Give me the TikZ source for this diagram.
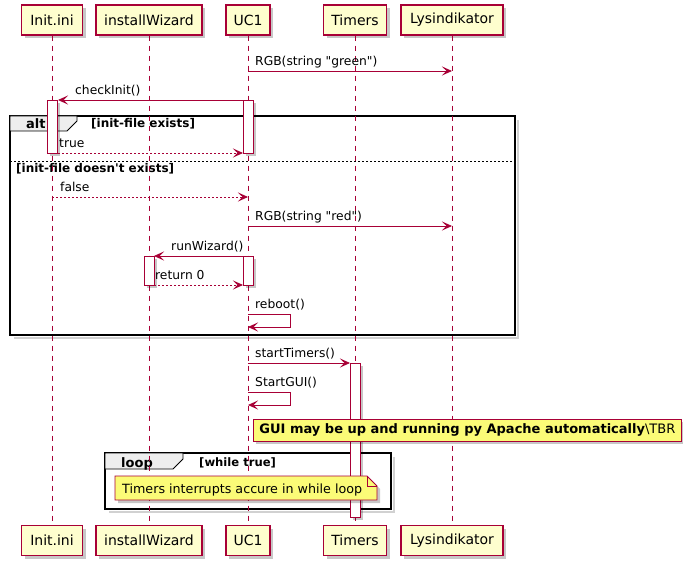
\documentclass[tikz,border=0pt]{standalone}
\usepackage{fontspec}
\newfontfamily\dv{DejaVu Sans}
\usetikzlibrary{arrows.meta,shadows}
\definecolor{pborder}{HTML}{A80036}
\definecolor{pfill}{HTML}{FEFECE}
\definecolor{nfill}{HTML}{FBFB77}
\definecolor{tabfill}{HTML}{EEEEEE}
\begin{document}
\begin{tikzpicture}[x=1pt,y=-1pt,
  every node/.style={font=\dv\fontsize{12.3}{15}\selectfont, inner sep=0pt, text=black},
  shad/.style={drop shadow={shadow xshift=3pt, shadow yshift=-3pt, fill=black, opacity=0.22}},
  part/.style={draw=pborder, fill=pfill, line width=1.1pt, minimum height=30pt, shad,
    font=\dv\fontsize{14}{16}\selectfont},
  life/.style={draw=pborder, line width=0.8pt, dash pattern=on 5pt off 5pt},
  act/.style={draw=pborder, fill=white, line width=0.8pt, shad},
  msg/.style={draw=pborder, line width=0.9pt, -{Stealth[length=10pt,width=9pt,inset=4.5pt]}},
  ret/.style={msg, dash pattern=on 2pt off 2pt},
  lbl/.style={anchor=base west},
  frame/.style={draw=black, line width=1.6pt},
  tab/.style={draw=black, fill=tabfill, line width=0.9pt},
  flabel/.style={anchor=base west, font=\dv\bfseries\fontsize{13}{15}\selectfont},
  guard/.style={anchor=base west, font=\dv\bfseries\fontsize{12}{14}\selectfont},
  note/.style={draw=pborder, fill=nfill, line width=0.8pt, shad},
  fshadow/.style={draw=black!18, line width=2.5pt}
]
\useasboundingbox (0,0) rectangle (683,569);
\fill[white] (0,0) rectangle (683,569);

% frames (behind)
\draw[fshadow] (14,338) -- (518,338) -- (518,120);
\draw[fshadow] (109,512) -- (394,512) -- (394,457);
\draw[frame] (10,116) rectangle (515,335);
\filldraw[tab] (10,116) -- (77,116) -- (77,121) -- (67,131) -- (10,131) -- cycle;
\node[flabel] (alt) at (26,129) {alt};
\node[guard] (g1) at (91,128) {[init-file exists]};
\draw[black, line width=0.8pt, dash pattern=on 2pt off 2pt] (10,161) -- (515,161);
\node[guard] (g2) at (16,173) {[init-file doesn't exists]};

\draw[frame] (105,453) rectangle (391,509);
\filldraw[tab] (105,453) -- (183,453) -- (183,459) -- (173,469) -- (105,469) -- cycle;
\node[flabel] (loop) at (121,467) {loop};
\node[guard, font=\dv\bfseries\fontsize{11.6}{14}\selectfont] (g3) at (199,466) {[while true]};

% participants
\node[part, minimum width=61pt] (pI) at (52,20) {Init.ini};
\node[part, minimum width=106pt] (pW) at (149,20) {installWizard};
\node[part, minimum width=44pt] (pU) at (248,20) {UC1};
\node[part, minimum width=63pt] (pT) at (355,20) {Timers};
\node[part, minimum width=102pt] (pL) at (452,20) {Lysindikator};
\node[part, minimum width=61pt] (qI) at (52,540.5) {Init.ini};
\node[part, minimum width=106pt] (qW) at (149,540.5) {installWizard};
\node[part, minimum width=44pt] (qU) at (248,540.5) {UC1};
\node[part, minimum width=63pt] (qT) at (355,540.5) {Timers};
\node[part, minimum width=102pt] (qL) at (452,540.5) {Lysindikator};

% lifelines
\draw[life] (pI.south) -- (qI.north);
\draw[life] (pW.south) -- (qW.north);
\draw[life] (pU.south) -- (qU.north);
\draw[life] (pT.south) -- (qT.north);
\draw[life] (pL.south) -- (qL.north);

% activations
\filldraw[act] (47,100) rectangle (57,153);
\filldraw[act] (243,100) rectangle (253,153);
\filldraw[act] (243,256) rectangle (253,285);
\filldraw[act] (144,256) rectangle (154,285);
\filldraw[act] (350,363) rectangle (360,517);

% messages
\draw[msg] (248,71) -- (452,71);
\node[lbl] (m1) at (255,66) {RGB(string "green")};
\draw[msg] (243,100) -- (58,100);
\node[lbl] (m2) at (75,95) {checkInit()};
\draw[ret] (58,153) -- (243,153);
\node[lbl] (m3) at (59,148) {true};
\draw[ret] (52,197) -- (248,197);
\node[lbl] (m4) at (60,192) {false};
\draw[msg] (248,226) -- (452,226);
\node[lbl] (m5) at (255,221) {RGB(string "red")};
\draw[msg] (243,256) -- (154,256);
\node[lbl] (m6) at (171,251) {runWizard()};
\draw[ret] (154,285) -- (243,285);
\node[lbl] (m7) at (155,280) {return 0};
\draw[msg] (248,314) -- (290,314) -- (290,327) -- (248,327);
\node[lbl] (m8) at (255,309) {reboot()};
\draw[msg] (248,363) -- (350,363);
\node[lbl] (m9) at (255,358) {startTimers()};
\draw[msg] (248,392) -- (290,392) -- (290,405) -- (248,405);
\node[lbl] (m10) at (255,387) {StartGUI()};

% notes
\node[note, minimum width=428pt, minimum height=22pt, anchor=north west,
  font=\dv\fontsize{13}{15}\selectfont] (n1) at (253,419)
  {\textbf{GUI may be up and running py Apache automatically}\textbackslash TBR};
\filldraw[note] (115,476) -- (367,476) -- (377,486) -- (377,500) -- (115,500) -- cycle;
\draw[draw=pborder, line width=0.8pt] (367,476) -- (367,486) -- (377,486);
\node[lbl, font=\dv\fontsize{12.7}{15}\selectfont] (n2) at (122,493) {Timers interrupts accure in while loop};
\end{tikzpicture}
\end{document}
